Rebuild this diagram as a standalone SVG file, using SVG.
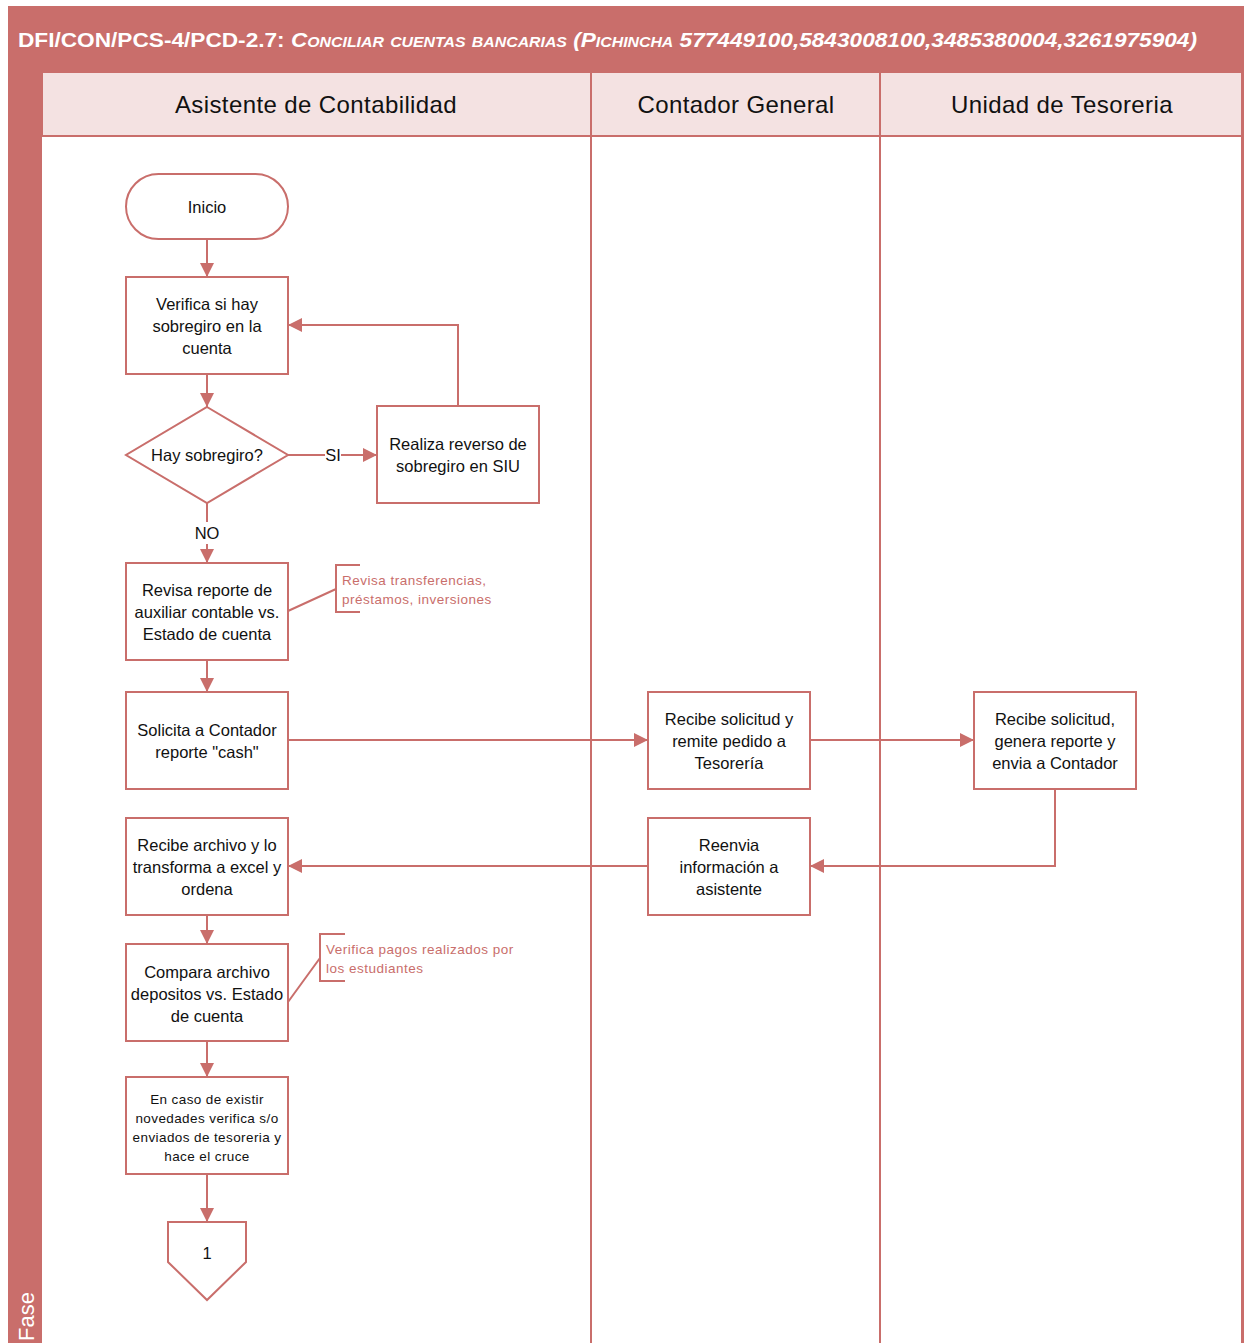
<svg xmlns="http://www.w3.org/2000/svg" width="1246" height="1343" viewBox="0 0 1246 1343">
  <defs>
    <marker id="arrow" markerUnits="userSpaceOnUse" markerWidth="14" markerHeight="14" refX="14" refY="7" orient="auto">
      <path d="M0,0 L14,7 L0,14 z" fill="#C96E6B"/>
    </marker>
    <style>
      .frame { fill: #C96E6B; }
      .hdr { fill: #F4E2E2; stroke: #C96E6B; stroke-width: 2; }
      .lane { stroke: #C96E6B; stroke-width: 2; fill: none; }
      .box { fill: #FFFFFF; stroke: #C96E6B; stroke-width: 2; }
      .conn { fill: none; stroke: #C96E6B; stroke-width: 2; }
      .t { font-family: "Liberation Sans", Arial, sans-serif; font-size: 16.5px; fill: #111111; text-anchor: middle; }
      .ts { font-family: "Liberation Sans", Arial, sans-serif; font-size: 13.5px; letter-spacing: 0.4px; fill: #111111; text-anchor: middle; }
      .ht { font-family: "Liberation Sans", Arial, sans-serif; font-size: 24px; letter-spacing: 0.4px; fill: #111111; text-anchor: middle; }
      .note { font-family: "Liberation Sans", Arial, sans-serif; font-size: 13.5px; letter-spacing: 0.5px; fill: #C96E6B; }
      .title { font-family: "Liberation Sans", Arial, sans-serif; font-size: 20px; font-weight: bold; fill: #FFFFFF; }
    </style>
  </defs>

  <!-- pool frame, title band and phase strip -->
  <rect class="frame" x="8" y="6" width="1236" height="1337"/>
  <rect x="42" y="136" width="1200" height="1207" fill="#FFFFFF"/>
  <text class="title" x="18" y="47" textLength="1179" lengthAdjust="spacingAndGlyphs">DFI/CON/PCS-4/PCD-2.7: <tspan font-style="italic" font-variant="small-caps">Conciliar cuentas bancarias (Pichincha 577449100,5843008100,3485380004,3261975904)</tspan></text>
  <text transform="translate(34,1341) rotate(-90)" font-family="'Liberation Sans', Arial, sans-serif" font-size="22" fill="#FFFFFF">Fase</text>

  <!-- lane headers -->
  <g id="lane-asistente">
    <rect class="hdr" x="42" y="72" width="549" height="64"/>
    <text class="ht" x="316" y="113">Asistente de Contabilidad</text>
  </g>
  <g id="lane-contador">
    <rect class="hdr" x="591" y="72" width="289" height="64"/>
    <text class="ht" x="736" y="113">Contador General</text>
  </g>
  <g id="lane-tesoreria">
    <rect class="hdr" x="880" y="72" width="362" height="64"/>
    <text class="ht" x="1062" y="113">Unidad de Tesoreria</text>
  </g>
  <path class="lane" d="M591,136 V1343 M880,136 V1343 M1242,136 V1343"/>

  <!-- connectors -->
  <g id="connectors">
    <path class="conn" d="M207,239 V277" marker-end="url(#arrow)"/>
    <path class="conn" d="M207,374 V407" marker-end="url(#arrow)"/>
    <path class="conn" d="M288,455 H377" marker-end="url(#arrow)"/>
    <path class="conn" d="M458,406 V325 H288" marker-end="url(#arrow)"/>
    <path class="conn" d="M207,503 V563" marker-end="url(#arrow)"/>
    <path class="conn" d="M207,660 V692" marker-end="url(#arrow)"/>
    <path class="conn" d="M288,740 H648" marker-end="url(#arrow)"/>
    <path class="conn" d="M810,740 H974" marker-end="url(#arrow)"/>
    <path class="conn" d="M1055,789 V866 H810" marker-end="url(#arrow)"/>
    <path class="conn" d="M648,866 H288" marker-end="url(#arrow)"/>
    <path class="conn" d="M207,915 V944" marker-end="url(#arrow)"/>
    <path class="conn" d="M207,1041 V1077" marker-end="url(#arrow)"/>
    <path class="conn" d="M207,1174 V1222" marker-end="url(#arrow)"/>
    <rect x="325" y="446" width="16" height="18" fill="#FFFFFF"/>
    <text class="t" x="333" y="461">SI</text>
    <rect x="192" y="522" width="30" height="22" fill="#FFFFFF"/>
    <text class="t" x="207" y="539">NO</text>
  </g>

  <!-- nodes -->
  <g id="inicio">
    <rect class="box" x="126" y="174" width="162" height="65" rx="32.5" ry="32.5"/>
    <text class="t" x="207" y="213">Inicio</text>
  </g>
  <g id="verifica-sobregiro">
    <rect class="box" x="126" y="277" width="162" height="97"/>
    <text class="t" x="207" y="310">Verifica si hay</text>
    <text class="t" x="207" y="332">sobregiro en la</text>
    <text class="t" x="207" y="354">cuenta</text>
  </g>
  <g id="hay-sobregiro">
    <polygon class="box" points="207,407 288,455 207,503 126,455"/>
    <text class="t" x="207" y="461">Hay sobregiro?</text>
  </g>
  <g id="realiza-reverso">
    <rect class="box" x="377" y="406" width="162" height="97"/>
    <text class="t" x="458" y="450">Realiza reverso de</text>
    <text class="t" x="458" y="472">sobregiro en SIU</text>
  </g>
  <g id="revisa-reporte">
    <rect class="box" x="126" y="563" width="162" height="97"/>
    <text class="t" x="207" y="596">Revisa reporte de</text>
    <text class="t" x="207" y="618">auxiliar contable vs.</text>
    <text class="t" x="207" y="640">Estado de cuenta</text>
  </g>
  <g id="nota-transferencias">
    <path class="conn" d="M288,611 L336,589 M360,565 H336 V612 H360"/>
    <text class="note" x="342" y="585">Revisa transferencias,</text>
    <text class="note" x="342" y="604">préstamos, inversiones</text>
  </g>
  <g id="solicita-cash">
    <rect class="box" x="126" y="692" width="162" height="97"/>
    <text class="t" x="207" y="736">Solicita a Contador</text>
    <text class="t" x="207" y="758">reporte "cash"</text>
  </g>
  <g id="recibe-remite">
    <rect class="box" x="648" y="692" width="162" height="97"/>
    <text class="t" x="729" y="725">Recibe solicitud y</text>
    <text class="t" x="729" y="747">remite pedido a</text>
    <text class="t" x="729" y="769">Tesorería</text>
  </g>
  <g id="genera-reporte">
    <rect class="box" x="974" y="692" width="162" height="97"/>
    <text class="t" x="1055" y="725">Recibe solicitud,</text>
    <text class="t" x="1055" y="747">genera reporte y</text>
    <text class="t" x="1055" y="769">envia a Contador</text>
  </g>
  <g id="recibe-archivo">
    <rect class="box" x="126" y="818" width="162" height="97"/>
    <text class="t" x="207" y="851">Recibe archivo y lo</text>
    <text class="t" x="207" y="873">transforma a excel y</text>
    <text class="t" x="207" y="895">ordena</text>
  </g>
  <g id="reenvia">
    <rect class="box" x="648" y="818" width="162" height="97"/>
    <text class="t" x="729" y="851">Reenvia</text>
    <text class="t" x="729" y="873">información a</text>
    <text class="t" x="729" y="895">asistente</text>
  </g>
  <g id="compara">
    <rect class="box" x="126" y="944" width="162" height="97"/>
    <text class="t" x="207" y="978">Compara archivo</text>
    <text class="t" x="207" y="1000">depositos vs. Estado</text>
    <text class="t" x="207" y="1022">de cuenta</text>
  </g>
  <g id="nota-pagos">
    <path class="conn" d="M288,1002 L320,958 M345,934 H320 V981 H345"/>
    <text class="note" x="326" y="954">Verifica pagos realizados por</text>
    <text class="note" x="326" y="973">los estudiantes</text>
  </g>
  <g id="en-caso">
    <rect class="box" x="126" y="1077" width="162" height="97"/>
    <text class="ts" x="207" y="1104">En caso de existir</text>
    <text class="ts" x="207" y="1123">novedades verifica s/o</text>
    <text class="ts" x="207" y="1142">enviados de tesoreria y</text>
    <text class="ts" x="207" y="1161">hace el cruce</text>
  </g>
  <g id="conector-1">
    <polygon class="box" points="168,1222 246,1222 246,1262 207,1300 168,1262"/>
    <text class="t" x="207" y="1259">1</text>
  </g>
</svg>
